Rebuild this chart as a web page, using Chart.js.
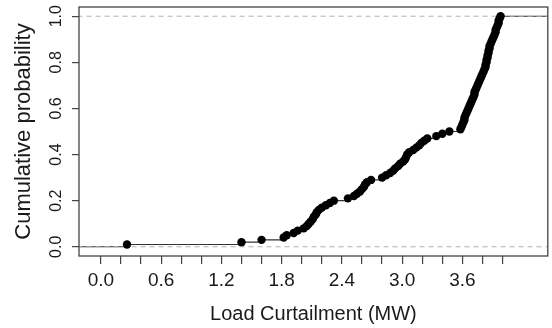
<!DOCTYPE html>
<html>
<head>
<meta charset="utf-8">
<script src="https://cdn.jsdelivr.net/npm/chart.js@4.4.0/dist/chart.umd.min.js"></script>
<style>
  html, body { margin: 0; padding: 0; background: #fff; }
  #wrap { width: 552px; height: 328px; }
</style>
</head>
<body>
<div id="wrap"><canvas id="chart"></canvas></div>
<script>
// sorted sample of load curtailment values (MW)
const loadValues = [
  0.26, 1.40, 1.60, 1.82, 1.85, 1.92, 1.96, 2.02, 2.05, 2.07,
  2.09, 2.11, 2.12, 2.14, 2.15, 2.17, 2.20, 2.24, 2.28, 2.32,
  2.46, 2.52, 2.55, 2.58, 2.60, 2.62, 2.63, 2.65, 2.69, 2.80,
  2.84, 2.88, 2.91, 2.93, 2.96, 2.98, 3.01, 3.03, 3.04, 3.05,
  3.07, 3.11, 3.14, 3.17, 3.19, 3.22, 3.25, 3.34, 3.40, 3.47,
  3.58, 3.59, 3.60, 3.61, 3.62, 3.62, 3.63, 3.64, 3.65, 3.66,
  3.67, 3.68, 3.69, 3.70, 3.71, 3.72, 3.72, 3.73, 3.74, 3.75,
  3.76, 3.77, 3.78, 3.79, 3.80, 3.81, 3.82, 3.83, 3.83, 3.84,
  3.84, 3.85, 3.85, 3.86, 3.86, 3.87, 3.87, 3.88, 3.89, 3.90,
  3.91, 3.92, 3.93, 3.93, 3.94, 3.95, 3.96, 3.96, 3.97, 3.98
];
const xTicks = [0, 0.2, 0.4, 0.6, 0.8, 1.0, 1.2, 1.4, 1.6, 1.8, 2.0,
                2.2, 2.4, 2.6, 2.8, 3.0, 3.2, 3.4, 3.6, 3.8, 4.0];
const xLabels = [0.0, 0.6, 1.2, 1.8, 2.4, 3.0, 3.6];
const yTicks = [0, 0.2, 0.4, 0.6, 0.8, 1.0];
const xRange = [-0.218, 4.45];
const yRange = [-0.04, 1.04];
const refLines = [0, 1];

const family = "'Liberation Sans', Arial, Helvetica, sans-serif";
const ink = '#1a1a1a';

// empirical CDF: point at each value, horizontal step to the next one
const n = loadValues.length;
const ecdfPoints = loadValues.map((v, i) => ({ x: v, y: (i + 1) / n }));
const steps = [{ x: xRange[0] - 1, y: 0 }, { x: loadValues[0], y: 0 }, { x: loadValues[0], y: null }];
loadValues.forEach((v, i) => {
  const next = i < n - 1 ? loadValues[i + 1] : xRange[1] + 1;
  steps.push({ x: v, y: (i + 1) / n }, { x: next, y: (i + 1) / n }, { x: next, y: null });
});

const dashed = refLines.map(h => ({
  data: [{ x: xRange[0] - 1, y: h }, { x: xRange[1] + 1, y: h }],
  showLine: true,
  borderColor: '#b0b0b0',
  borderWidth: 1,
  borderDash: [5, 4],
  pointRadius: 0
}));

const rFrame = {
  id: 'rFrame',
  afterDraw(chart) {
    const { ctx, chartArea: a, scales: { y } } = chart;
    ctx.save();
    ctx.strokeStyle = '#444';
    ctx.lineWidth = 1.3;
    ctx.strokeRect(a.left, a.top, a.right - a.left, a.bottom - a.top);
    // R style vertical tick labels on the y axis
    ctx.fillStyle = ink;
    ctx.font = '16px ' + family;
    ctx.textAlign = 'center';
    ctx.textBaseline = 'middle';
    yTicks.forEach(v => {
      ctx.save();
      ctx.translate(a.left - 22, y.getPixelForValue(v));
      ctx.rotate(-Math.PI / 2);
      ctx.fillText(v.toFixed(1), 0, 0);
      ctx.restore();
    });
    ctx.restore();
  }
};

new Chart(document.getElementById('chart'), {
  type: 'scatter',
  data: {
    datasets: [
      {
        data: ecdfPoints,
        backgroundColor: '#000',
        borderColor: '#000',
        pointRadius: 4.2,
        pointBorderWidth: 0,
        showLine: false
      },
      ...dashed,
      {
        data: steps,
        showLine: true,
        spanGaps: false,
        borderColor: '#333',
        borderWidth: 1.1,
        pointRadius: 0
      }
    ]
  },
  options: {
    responsive: true,
    maintainAspectRatio: false,
    animation: false,
    layout: { padding: { top: 7, right: 1, left: 0, bottom: 0 } },
    plugins: { legend: { display: false }, tooltip: { enabled: false } },
    scales: {
      x: {
        type: 'linear',
        min: xRange[0],
        max: xRange[1],
        afterBuildTicks: s => { s.ticks = xTicks.map(v => ({ value: v })); },
        afterFit: s => { s.height = 72; },
        grid: { drawOnChartArea: false, drawTicks: true, tickLength: 8, color: '#444', lineWidth: 1.2 },
        border: { display: false },
        ticks: {
          autoSkip: false,
          maxRotation: 0,
          padding: 5,
          color: ink,
          font: { size: 19, family },
          callback: v => xLabels.some(t => Math.abs(t - v) < 1e-6) ? v.toFixed(1) : ''
        },
        title: {
          display: true,
          text: 'Load Curtailment (MW)',
          color: ink,
          font: { size: 20, family },
          padding: { top: 0, bottom: 2 }
        }
      },
      y: {
        min: yRange[0],
        max: yRange[1],
        afterBuildTicks: s => { s.ticks = yTicks.map(v => ({ value: v })); },
        afterFit: s => { s.width = 79; },
        grid: { drawOnChartArea: false, drawTicks: true, tickLength: 7, color: '#444', lineWidth: 1.2 },
        border: { display: false },
        ticks: { display: false },
        title: {
          display: true,
          text: 'Cumulative probability',
          color: ink,
          font: { size: 22, family },
          padding: { top: 11, bottom: 0 }
        }
      }
    }
  },
  plugins: [rFrame]
});
</script>
</body>
</html>
